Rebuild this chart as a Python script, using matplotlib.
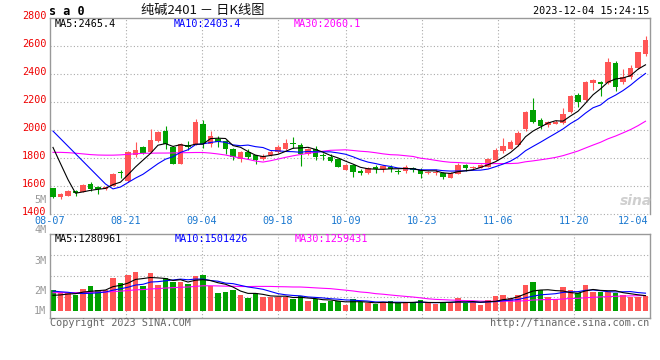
import numpy as np
import pandas as pd
import matplotlib
matplotlib.use('Agg')
import matplotlib.pyplot as plt
from matplotlib.transforms import offset_copy

# 纯碱2401 日K, 2023-08-07 .. 2023-12-04 (80 sessions)
opens = [1583, 1524, 1531, 1564, 1557, 1617, 1593, 1576, 1602, 1702,
         1633, 1821, 1881, 1843, 1921, 1993, 1881, 1759, 1893, 1893,
         2043, 1900, 1938, 1924, 1867, 1795, 1845, 1821, 1790, 1821,
         1843, 1864, 1910, 1890, 1829, 1862, 1821, 1809, 1790, 1717,
         1750, 1705, 1693, 1738, 1721, 1738, 1710, 1710, 1729, 1712,
         1690, 1690, 1690, 1659, 1686, 1750, 1726, 1731, 1736, 1786,
         1852, 1864, 1895, 2005, 2143, 2071, 2033, 2045, 2052, 2131,
         2250, 2214, 2338, 2343, 2333, 2476, 2345, 2376, 2440, 2540]
highs = [1587, 1550, 1571, 1569, 1614, 1628, 1600, 1602, 1695, 1714,
         1848, 1917, 1886, 2005, 1993, 2028, 1886, 1905, 1921, 2079,
         2071, 1993, 1957, 1929, 1871, 1850, 1862, 1822, 1828, 1857,
         1895, 1938, 1950, 1905, 1871, 1886, 1838, 1828, 1792, 1755,
         1755, 1721, 1736, 1748, 1752, 1750, 1719, 1750, 1738, 1729,
         1710, 1721, 1702, 1700, 1767, 1755, 1745, 1757, 1802, 1869,
         1943, 1929, 1995, 2136, 2228, 2088, 2062, 2071, 2155, 2248,
         2264, 2348, 2364, 2350, 2514, 2490, 2433, 2464, 2560, 2671]
lows = [1517, 1507, 1528, 1531, 1555, 1567, 1545, 1569, 1600, 1657,
        1629, 1810, 1829, 1838, 1914, 1867, 1757, 1757, 1857, 1890,
        1869, 1881, 1876, 1831, 1786, 1774, 1793, 1755, 1786, 1817,
        1838, 1857, 1869, 1745, 1821, 1788, 1788, 1774, 1736, 1714,
        1667, 1679, 1686, 1695, 1702, 1698, 1688, 1695, 1702, 1659,
        1683, 1681, 1652, 1655, 1683, 1710, 1719, 1726, 1733, 1783,
        1838, 1862, 1886, 1995, 2048, 2007, 2019, 2040, 2043, 2124,
        2167, 2209, 2286, 2245, 2326, 2281, 2329, 2367, 2433, 2529]
closes = [1524, 1543, 1564, 1552, 1607, 1579, 1581, 1595, 1688, 1695,
          1843, 1860, 1838, 1928, 1988, 1900, 1759, 1900, 1877, 2059,
          1900, 1957, 1914, 1867, 1805, 1840, 1805, 1786, 1814, 1845,
          1881, 1910, 1898, 1826, 1867, 1805, 1812, 1781, 1738, 1752,
          1700, 1696, 1729, 1724, 1745, 1719, 1700, 1738, 1717, 1686,
          1700, 1700, 1667, 1695, 1750, 1731, 1738, 1748, 1793, 1857,
          1886, 1912, 1976, 2128, 2059, 2031, 2055, 2057, 2114, 2243,
          2200, 2343, 2357, 2326, 2486, 2309, 2381, 2440, 2555, 2643]
# closes before 08-07 (estimated), only used to warm up the moving averages
prev_closes = [1543, 1624, 1672, 1757, 1729, 1671, 1625, 1688, 1635, 1723,
               1740, 1748, 1898, 1958, 1900, 1729, 1870, 1847, 2029, 1900,
               2083, 2104, 2092, 2147, 2119, 2121, 2135, 2038, 1560]

# volume, millions of lots
volume = [1.75, 1.48, 1.48, 1.34, 1.84, 2.09, 1.75, 1.75, 2.76, 2.37,
          3.03, 3.28, 2.12, 3.20, 2.20, 2.78, 2.45, 2.45, 2.23, 2.95,
          3.01, 2.09, 1.53, 1.61, 1.78, 1.34, 1.11, 1.53, 1.20, 1.14,
          1.20, 1.14, 0.97, 1.28, 0.84, 0.97, 0.67, 0.86, 0.84, 0.50,
          1.00, 0.72, 0.64, 0.56, 0.75, 0.84, 0.64, 0.75, 0.64, 0.92,
          0.64, 0.61, 0.78, 0.70, 1.09, 0.64, 0.75, 0.50, 0.92, 1.25,
          1.34, 1.09, 1.34, 2.17, 2.42, 1.75, 1.20, 1.00, 2.00, 1.75,
          1.48, 2.17, 1.61, 1.61, 1.61, 1.50, 1.34, 1.17, 1.17, 1.25]
prev_volume = [1.3, 1.5, 1.4, 1.6, 1.2, 1.5, 1.7, 1.4, 1.3, 1.6,
               1.5, 1.4, 1.6, 1.5, 1.3, 1.4, 1.6, 1.5, 1.4, 1.5,
               2.1, 1.9, 2.2, 2.0, 1.95, 1.3, 1.1, 1.2, 1.2]

tick_idx = [0, 10, 20, 30, 39, 49, 59, 69, 79]
tick_labels = ['08-07', '08-21', '09-04', '09-18', '10-09', '10-23', '11-06', '11-20', '12-04']
price_ticks = [1400, 1600, 1800, 2000, 2200, 2400, 2600, 2800]
price_ma_text = ['MA5:2465.4', 'MA10:2403.4', 'MA30:2060.1']
vol_ma_text = ['MA5:1280961', 'MA10:1501426', 'MA30:1259431']
vol_tick_labels = ['5M', '4M', '3M', '2M', '1M']

RED = '#ff5555'
GREEN = '#00a000'
MA_COLORS = ['black', '#0000ff', '#ff00ff']
GRID = '#aaaaaa'
BORDER = '#999999'
MONO = 'DejaVu Sans Mono'

n = len(closes)
x = np.arange(n)
o, h, l, c = (np.array(a, dtype=float) for a in (opens, highs, lows, closes))
colors = np.where(c >= o, RED, GREEN)


def moving_avg(values, prev, w):
    s = pd.Series(list(prev) + list(values), dtype=float)
    return s.rolling(w).mean().to_numpy()[len(prev):]


W, H = 660, 360
fig = plt.figure(figsize=(6.6, 3.6), dpi=100)


def box(left, top, right, bottom):
    return [left / W, 1 - bottom / H, (right - left) / W, (bottom - top) / H]


ax = fig.add_axes(box(50, 18, 650, 214))
axv = fig.add_axes(box(50, 234, 650, 318))

xlim = (-0.4, n - 0.4)
# sina spaces its date grid over n-1 steps across the panel
grid_x = [xlim[0] + t * (xlim[1] - xlim[0]) / (n - 1) for t in tick_idx]

for a in (ax, axv):
    a.set_xlim(*xlim)
    a.set_xticks([])
    a.set_yticks([])
    for s in a.spines.values():
        s.set_color(BORDER)
        s.set_linewidth(1.0)
    for gx in grid_x[1:-1]:
        a.axvline(gx, color=GRID, lw=0.8, ls=(0, (1, 2)), zorder=0)

# price panel
ax.set_ylim(price_ticks[0], price_ticks[-1])
ax.spines['bottom'].set_visible(False)
for v in price_ticks[:-1]:
    ax.axhline(v, color=GRID, lw=0.8, ls=(0, (1, 2)), zorder=0, clip_on=False)

ax.vlines(x, l, h, colors=colors, lw=0.8, zorder=2)
ax.bar(x, np.maximum(np.abs(c - o), 5), bottom=np.minimum(o, c), width=0.74,
       color=colors, linewidth=0, zorder=3)

for w, col in zip([30, 10, 5], MA_COLORS[::-1]):
    ax.plot(x, moving_avg(closes, prev_closes, w), color=col, lw=0.8, zorder=4)

ylab_tr = offset_copy(ax.get_yaxis_transform(), fig=fig, x=-3.5, y=2, units='dots')
for v in price_ticks:
    ax.text(0, v, str(v), transform=ylab_tr, ha='right', va='center',
            color='#ee0000', family=MONO, size=7.3)

xlab_tr = offset_copy(ax.get_xaxis_transform(), fig=fig, x=0, y=-6.5, units='dots')
for gx, lab in zip(grid_x, tick_labels):
    ha = 'right' if lab == tick_labels[-1] else 'center'
    xx = gx - 0.25 if ha == 'right' else gx
    ax.text(xx, 0, lab, transform=xlab_tr, ha=ha, va='center',
            color='#1a78d0', family=MONO, size=7.3)

for txt, col, px in zip(price_ma_text, MA_COLORS, [55, 174, 294]):
    fig.text(px / W, 1 - 24 / H, txt, ha='left', va='center', color=col,
             family=MONO, size=7.3)

# volume panel
axv.set_ylim(-0.58, 6.43)
for f in [0.25, 0.5, 0.75]:
    axv.axhline(f * 6.43 + (1 - f) * -0.58, color=GRID, lw=0.8, ls=(0, (1, 2)), zorder=0)
axv.bar(x, volume, width=0.76, color=colors, linewidth=0, zorder=2)
for w, col in zip([30, 10, 5], MA_COLORS[::-1]):
    axv.plot(x, moving_avg(volume, prev_volume, w), color=col, lw=0.8, zorder=4)

for txt, col, px in zip(vol_ma_text, MA_COLORS, [55, 175, 295]):
    fig.text(px / W, 1 - 238.5 / H, txt, ha='left', va='center', color=col,
             family=MONO, size=7.3)

for lab, py in zip(vol_tick_labels, [200, 230.5, 261, 291, 311]):
    fig.text(46.5 / W, 1 - py / H, lab, ha='right', va='center',
             color='#999999', family=MONO, size=7.3)

# header / footer
fig.text(49 / W, 1 - 11.5 / H, 's a 0', ha='left', va='center', color='black',
         family=MONO, weight='bold', size=8.5)
fig.text(141 / W, 1 - 10 / H, '纯碱2401 － 日K线图', ha='left', va='center',
         color='#111111', family=['Noto Sans CJK SC', 'DejaVu Sans'], size=9.5)
fig.text(649 / W, 1 - 11.5 / H, '2023-12-04 15:24:15', ha='right', va='center',
         color='black', family=MONO, size=7.3)
fig.text(50 / W, 1 - 323.5 / H, 'Copyright 2023 SINA.COM', ha='left', va='center',
         color='#666666', family=MONO, size=7.3)
fig.text(649 / W, 1 - 323.5 / H, 'http://finance.sina.com.cn', ha='right', va='center',
         color='#666666', family=MONO, size=7.3)
fig.text(636 / W, 1 - 201 / H, 'sina', ha='center', va='center', color='#cfcfcf',
         family='DejaVu Sans', style='italic', weight='bold', size=10)

fig.savefig('out.png', dpi=100)
